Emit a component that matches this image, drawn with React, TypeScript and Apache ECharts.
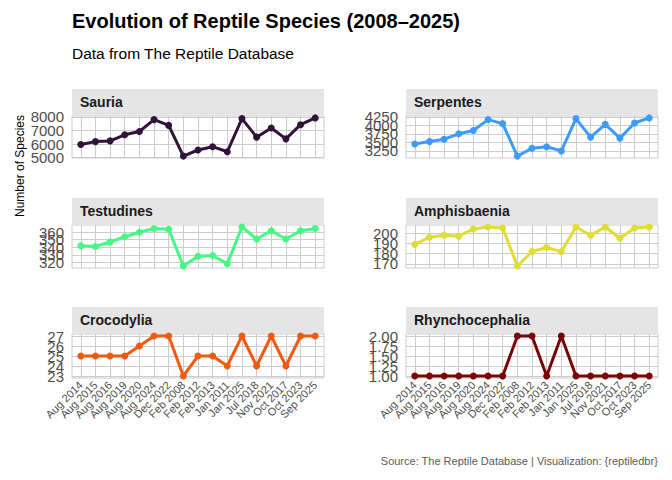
import React, { useEffect, useRef } from "react";
import * as echarts from "echarts";

const categories = [
  "Aug 2014", "Aug 2015", "Aug 2016", "Aug 2019", "Aug 2020", "Aug 2024",
  "Dec 2022", "Feb 2008", "Feb 2012", "Feb 2013", "Jan 2011", "Jan 2025",
  "Jul 2018", "Nov 2021", "Oct 2017", "Oct 2023", "Sep 2025",
];

const sauria = [5970, 6179, 6231, 6679, 6925, 7799, 7373, 5112, 5560, 5806, 5433, 7873, 6507, 7179, 6381, 7425, 7925];
const serpentes = [3455, 3524, 3595, 3753, 3851, 4170, 4051, 3098, 3327, 3375, 3247, 4199, 3655, 4030, 3625, 4071, 4220];
const testudines = [342, 341, 347, 354, 360, 365, 364, 315, 328, 329, 318, 367, 351, 362, 351, 362, 365];
const amphisbaenia = [189, 196, 198, 197, 204, 206, 205, 168, 182, 186, 182, 206, 198, 206, 195, 205, 206];
const crocodylia = [25, 25, 25, 25, 26, 27, 27, 23, 25, 25, 24, 27, 24, 27, 24, 27, 27];
const rhynchocephalia = [1, 1, 1, 1, 1, 1, 1, 2, 2, 1, 2, 1, 1, 1, 1, 1, 1];

const sauriaTicks = [5000, 6000, 7000, 8000];
const serpentesTicks = [3250, 3500, 3750, 4000, 4250];
const testudinesTicks = [320, 330, 340, 350, 360];
const amphisbaeniaTicks = [170, 180, 190, 200];
const crocodyliaTicks = [23, 24, 25, 26, 27];
const rhynchoTicks = [1, 1.25, 1.5, 1.75, 2];

const panels = [
  { name: "Sauria", values: sauria, ticks: sauriaTicks, color: "#30123B", dec: 0 },
  { name: "Serpentes", values: serpentes, ticks: serpentesTicks, color: "#3E9BFE", dec: 0 },
  { name: "Testudines", values: testudines, ticks: testudinesTicks, color: "#46F884", dec: 0 },
  { name: "Amphisbaenia", values: amphisbaenia, ticks: amphisbaeniaTicks, color: "#E1DD37", dec: 0 },
  { name: "Crocodylia", values: crocodylia, ticks: crocodyliaTicks, color: "#F05B12", dec: 0 },
  { name: "Rhynchocephalia", values: rhynchocephalia, ticks: rhynchoTicks, color: "#7A0403", dec: 2 },
];

const FONT = "'Liberation Sans', Arial, sans-serif";
const colLeft = [72, 406];
const panelW = 252;
const rowTop = [116, 225, 334];
const rowH = [42, 43, 44];
const stripH = 27;

export default function App() {
  const ref = useRef<HTMLDivElement>(null);
  useEffect(() => {
    if (!ref.current) return;
    const chart = echarts.init(ref.current, null, { renderer: "svg" });
    const idx = categories.map((_, i) => i);
    const grids: any[] = [];
    const xAxes: any[] = [];
    const yAxes: any[] = [];
    const series: any[] = [];
    const graphics: any[] = [];
    panels.forEach((p, k) => {
      const row = Math.floor(k / 2);
      const col = k % 2;
      const left = colLeft[col];
      const top = rowTop[row];
      grids.push({
        left, top, width: panelW, height: rowH[row],
        show: true, borderColor: "#CCCCCC", borderWidth: 1, backgroundColor: "#FFFFFF",
        containLabel: false,
      });
      xAxes.push({
        type: "value", gridIndex: k, min: -0.6, max: 16.6,
        axisLine: { show: false },
        axisTick: { show: false, customValues: idx },
        axisLabel: { show: false, customValues: idx },
        splitLine: { show: true, lineStyle: { color: "#CCCCCC", width: 1 } },
      });
      const mn = Math.min(...p.values);
      const mx = Math.max(...p.values);
      const pad = (mx - mn) * 0.05;
      yAxes.push({
        type: "value", gridIndex: k, min: mn - pad, max: mx + pad,
        axisLine: { show: false },
        axisTick: { show: false, customValues: p.ticks },
        axisLabel: { show: false, customValues: p.ticks },
        splitLine: { show: true, lineStyle: { color: "#CCCCCC", width: 1 } },
      });
      series.push({
        type: "line", name: p.name, xAxisIndex: k, yAxisIndex: k,
        data: p.values.map((v, i) => [i, v]),
        symbol: "circle", symbolSize: 7, showSymbol: true,
        lineStyle: { color: p.color, width: 3 },
        itemStyle: { color: p.color },
        silent: true,
      });
      graphics.push({
        type: "rect", left, top: top - stripH,
        shape: { width: panelW, height: stripH },
        style: { fill: "#E5E5E5" },
      });
      graphics.push({
        type: "text", left: left + 8, top: top - stripH + 6,
        style: { text: p.name, font: `bold 14px ${FONT}`, fill: "#1A1A1A" },
      });
    });
    graphics.push(
      { type: "text", left: 72, top: 11, style: { text: "Evolution of Reptile Species (2008–2025)", font: `bold 20px ${FONT}`, fill: "#000" } },
      { type: "text", left: 72, top: 45, style: { text: "Data from The Reptile Database", font: `15.5px ${FONT}`, fill: "#000" } },
      { type: "text", right: 14, top: 455, style: { text: "Source: The Reptile Database | Visualization: {reptiledbr}", font: `11px ${FONT}`, fill: "#5A5A5A" } },
      { type: "text", x: 20, y: 166, rotation: Math.PI / 2, style: { text: "Number of Species", font: `12px ${FONT}`, fill: "#000", align: "center", verticalAlign: "middle" } },
    );
    chart.setOption({
      animation: false,
      backgroundColor: "#FFFFFF",
      grid: grids,
      xAxis: xAxes,
      yAxis: yAxes,
      series,
    });
    // axis tick labels placed through the axes' own scales
    panels.forEach((p, k) => {
      const row = Math.floor(k / 2);
      const col = k % 2;
      const left = colLeft[col];
      p.ticks.forEach((t) => {
        const py = chart.convertToPixel({ yAxisIndex: k } as any, t) as number;
        graphics.push({
          type: "text", x: left - 8, y: py,
          style: { text: t.toFixed(p.dec), font: `15px ${FONT}`, fill: "#4D4D4D", align: "right", verticalAlign: "middle" },
        });
      });
      if (row === 2) {
        const bottom = rowTop[row] + rowH[row];
        categories.forEach((c, i) => {
          const px = chart.convertToPixel({ xAxisIndex: k } as any, i) as number;
          graphics.push({
            type: "text", x: px, y: bottom + 5, rotation: Math.PI / 4,
            style: { text: c, font: `11px ${FONT}`, fill: "#4D4D4D", align: "right", verticalAlign: "middle" },
          });
        });
      }
    });
    chart.setOption({ graphic: graphics });
    return () => chart.dispose();
  }, []);
  return <div ref={ref} style={{ position: "absolute", left: 0, top: 0, width: 672, height: 480 }} />;
}
